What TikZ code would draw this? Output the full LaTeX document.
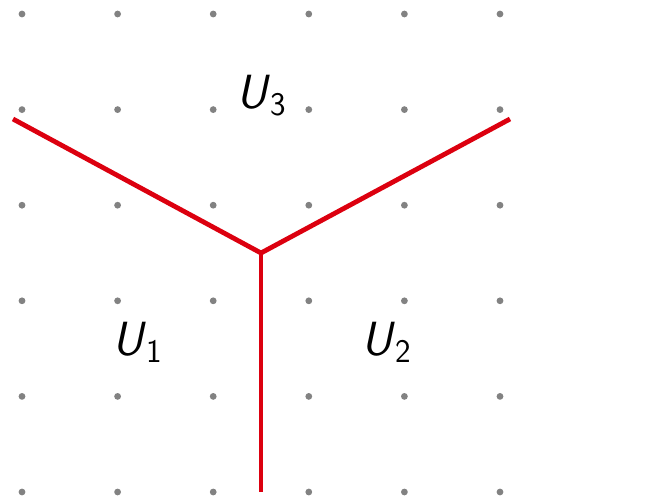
\documentclass[tikz,border=0pt]{standalone}
\usepackage{fontspec}
\definecolor{linered}{RGB}{220,0,15}
\definecolor{dotgray}{RGB}{130,130,130}
\newcommand{\regionlabel}[1]{\textit{U}\kern0.5pt\raisebox{-7pt}{\fontsize{33}{33}\selectfont #1}}
\tikzset{
  gdot/.style={fill=dotgray, draw=none},
  boundary/.style={draw=linered, line width=4.8pt, line cap=butt, line join=miter},
  region/.style={anchor=base, inner sep=0pt, font=\sffamily\fontsize{48}{56}\selectfont}
}
\begin{document}
\begin{tikzpicture}[x=1pt,y=-1pt]
\useasboundingbox (0,0) rectangle (667,501);
\foreach \i in {0,...,5}{
  \foreach \j in {0,...,5}{
    \fill[gdot] ({22+95.6*\i},{14+95.6*\j}) circle (3.4);
  }
}
\coordinate (c) at (261,253);
\coordinate (l) at (13,119);
\coordinate (r) at (510,119);
\coordinate (b) at (261,492);
\draw[boundary] (l) -- (c) -- (r);
\draw[boundary] (c) -- (b);
\node[region] (u3) at (261,108) {\regionlabel{3}};
\node[region] (u1) at (137,355) {\regionlabel{1}};
\node[region] (u2) at (386,355) {\regionlabel{2}};
\end{tikzpicture}
\end{document}
